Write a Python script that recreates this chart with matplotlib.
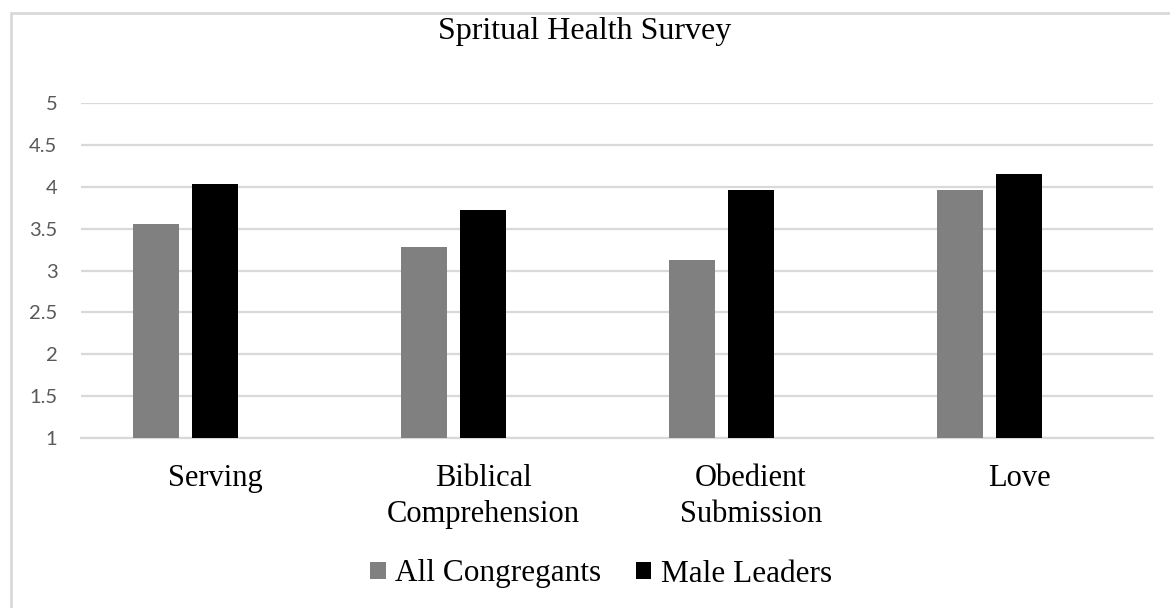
import numpy as np
import matplotlib
matplotlib.use('Agg')
import matplotlib.pyplot as plt
from matplotlib.patches import Rectangle, Patch

### data
categories    = ["Serving", "Biblical\nComprehension", "Obedient\nSubmission", "Love"]
all_congreg   = [3.56, 3.28, 3.12, 3.96]
male_leaders  = [4.04, 3.72, 3.96, 4.16]
series_names  = ["All Congregants", "Male Leaders"]
y_ticks       = [1, 1.5, 2, 2.5, 3, 3.5, 4, 4.5, 5]

serif = ['Liberation Serif', 'DejaVu Serif']

fig = plt.figure(figsize=(11.70, 6.08), dpi=100)
fig.patch.set_facecolor('white')

# thin light gray chart frame (right / bottom run off the picture)
fig.add_artist(Rectangle((11/1170, -0.05), 1.2, 1 - 13/608 + 0.05, transform=fig.transFigure,
                         fill=False, edgecolor='#d9d9d9', linewidth=2.0))

ax = fig.add_axes([81/1170, 170.3/608, 1072/1170, 334.4/608])

x = np.arange(len(categories))
width = 0.1735
step = 0.221
ax.bar(x - step, all_congreg, width, bottom=0, color='#808080', label=series_names[0], zorder=3)
ax.bar(x, male_leaders, width, bottom=0, color='#000000', label=series_names[1], zorder=3)

ax.set_xlim(-0.5, len(categories) - 0.5)
ax.set_ylim(1, 5)
ax.set_yticks(y_ticks)
ax.set_yticklabels([f"{t:g}" for t in y_ticks], fontfamily='Lato', fontsize=14.5, color='#595959')
ax.grid(axis='y', color='#d9d9d9', linewidth=1.6, zorder=0)
ax.tick_params(axis='y', length=0, pad=17)

ax.set_xticks(x)
ax.set_xticklabels(categories, fontfamily=serif, fontsize=22, color='black', linespacing=1.3)
ax.tick_params(axis='x', length=0, pad=19)

for s in ['top', 'right', 'left']:
    ax.spines[s].set_visible(False)
ax.spines['bottom'].set_color('#d9d9d9')
ax.spines['bottom'].set_linewidth(1.6)

fig.text(0.5, 1 - 32/608, "Spritual Health Survey", ha='center', va='center',
         fontfamily=serif, fontsize=23)

handles = [Patch(facecolor='#808080'), Patch(facecolor='#000000')]
fig.legend(handles, series_names, loc='center', bbox_to_anchor=(601/1170, 1 - 574/608),
           ncol=2, frameon=False, prop={'family': serif, 'size': 22.5},
           handlelength=0.5, handleheight=0.5, handletextpad=0.3, columnspacing=1.1)

fig.savefig("out.png", dpi=100, facecolor='white')
